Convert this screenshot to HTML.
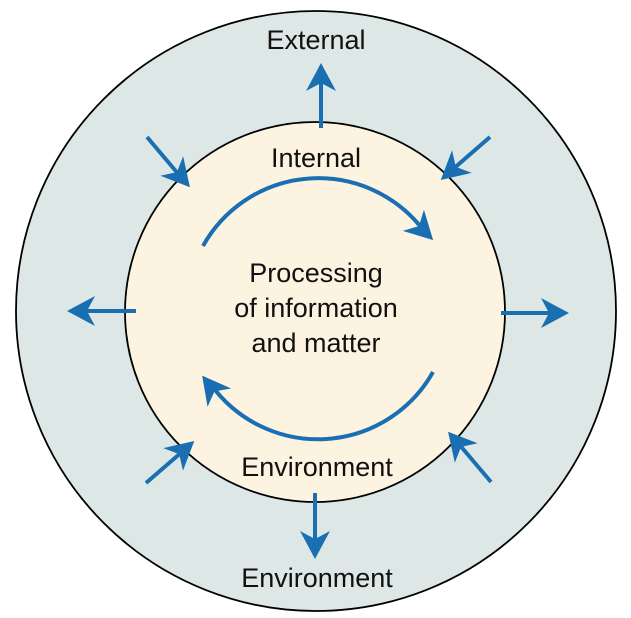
<!DOCTYPE html>
<html><head><style>
html,body{margin:0;padding:0;background:#fff;}
svg{display:block;}
text{font-family:"Liberation Sans",sans-serif;font-size:27px;fill:#111;text-anchor:middle;}
</style></head><body>
<svg width="631" height="618" viewBox="0 0 631 618">
<defs>
<polygon id="h" points="3,0 -25,-15 -17,0 -25,15" fill="#1a6fb3"/>
</defs>
<circle cx="316" cy="311" r="300" fill="#dde8e6" stroke="#000" stroke-width="1.8"/>
<circle cx="315" cy="312" r="190" fill="#fdf3e1" stroke="#000" stroke-width="1.8"/>
<g stroke="#1a6fb3" stroke-width="4" fill="none">
<path d="M321,128 L321,80"/>
<path d="M147,137 L180,176"/>
<path d="M490,137 L452,170"/>
<path d="M136,311 L84,311"/>
<path d="M501,313 L552,313"/>
<path d="M146,483 L183,451"/>
<path d="M491,482 L458,443"/>
<path d="M315,493 L315,542"/>
<path d="M203,246 A132,132 0 0 1 424,231"/>
<path d="M433,372 A132,132 0 0 1 212,386"/>
</g>
<use href="#h" transform="translate(321,66) rotate(-90)"/>
<use href="#h" transform="translate(188,185) rotate(49.5)"/>
<use href="#h" transform="translate(443,178) rotate(139)"/>
<use href="#h" transform="translate(70,311) rotate(180)"/>
<use href="#h" transform="translate(566,313)"/>
<use href="#h" transform="translate(192,443) rotate(-41)"/>
<use href="#h" transform="translate(450,434) rotate(-130.5)"/>
<use href="#h" transform="translate(315,556) rotate(90)"/>
<use href="#h" transform="translate(431,238) rotate(45)"/>
<use href="#h" transform="translate(204,378) rotate(-128)"/>
<text x="316" y="49">External</text>
<text x="316" y="167">Internal</text>
<text x="316" y="282">Processing</text>
<text x="316" y="317">of information</text>
<text x="316" y="352">and matter</text>
<text x="317" y="476">Environment</text>
<text x="317" y="587">Environment</text>
</svg>
</body></html>
